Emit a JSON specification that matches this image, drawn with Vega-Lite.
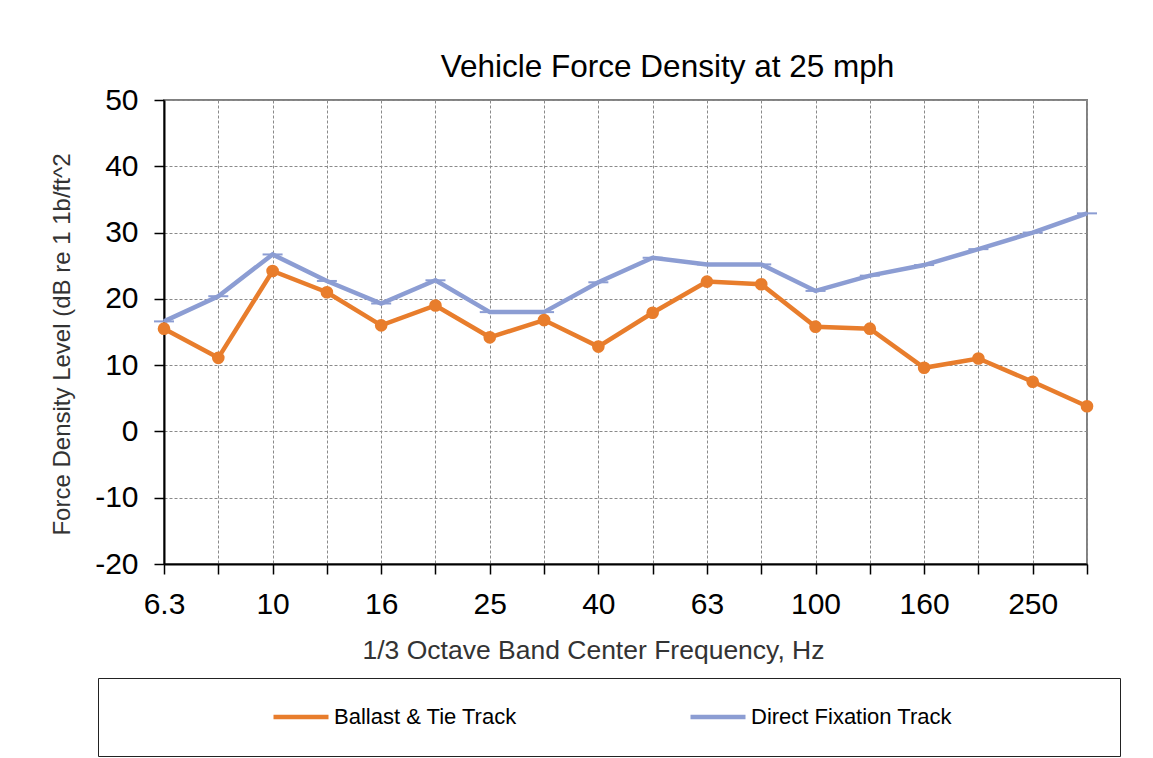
{
  "$schema": "https://vega.github.io/schema/vega-lite/v6.json",
  "width": 923,
  "height": 464,
  "autosize": {"type": "none"},
  "padding": {"left": 164, "top": 100, "right": 66, "bottom": 194},
  "background": "white",
  "title": {
    "text": "Vehicle Force Density at 25 mph",
    "font": "Liberation Sans",
    "fontSize": 31.5,
    "fontWeight": "normal",
    "color": "#000000",
    "anchor": "middle",
    "frame": "group",
    "baseline": "alphabetic",
    "offset": 23,
    "dx": 42,
    "dy": 46
  },
  "config": {
    "font": "Liberation Sans",
    "view": {"stroke": "#808080", "strokeWidth": 2},
    "axis": {
      "labelFont": "Liberation Sans",
      "titleFont": "Liberation Sans",
      "labelColor": "#000000",
      "titleColor": "#333333",
      "titleFontWeight": "normal",
      "domainColor": "#000000",
      "domainWidth": 2,
      "tickColor": "#000000",
      "tickWidth": 1.5,
      "tickSize": 10,
      "gridColor": "#8a8a8a",
      "gridWidth": 1,
      "gridDash": [3, 2],
      "gridOpacity": 1
    },
    "legend": {
      "labelFont": "Liberation Sans",
      "titleFont": "Liberation Sans"
    }
  },
  "data": {
    "values": [
      {"freq": "6.3", "track": "Ballast & Tie Track", "level": 15.5},
      {"freq": "8", "track": "Ballast & Tie Track", "level": 11.1},
      {"freq": "10", "track": "Ballast & Tie Track", "level": 24.2},
      {"freq": "12.5", "track": "Ballast & Tie Track", "level": 21.0},
      {"freq": "16", "track": "Ballast & Tie Track", "level": 16.0},
      {"freq": "20", "track": "Ballast & Tie Track", "level": 19.0},
      {"freq": "25", "track": "Ballast & Tie Track", "level": 14.2},
      {"freq": "31.5", "track": "Ballast & Tie Track", "level": 16.8},
      {"freq": "40", "track": "Ballast & Tie Track", "level": 12.8},
      {"freq": "50", "track": "Ballast & Tie Track", "level": 17.9},
      {"freq": "63", "track": "Ballast & Tie Track", "level": 22.6},
      {"freq": "80", "track": "Ballast & Tie Track", "level": 22.2},
      {"freq": "100", "track": "Ballast & Tie Track", "level": 15.8},
      {"freq": "125", "track": "Ballast & Tie Track", "level": 15.5},
      {"freq": "160", "track": "Ballast & Tie Track", "level": 9.6},
      {"freq": "200", "track": "Ballast & Tie Track", "level": 11.0},
      {"freq": "250", "track": "Ballast & Tie Track", "level": 7.5},
      {"freq": "315", "track": "Ballast & Tie Track", "level": 3.8},
      {"freq": "6.3", "track": "Direct Fixation Track", "level": 16.6},
      {"freq": "8", "track": "Direct Fixation Track", "level": 20.4},
      {"freq": "10", "track": "Direct Fixation Track", "level": 26.7},
      {"freq": "12.5", "track": "Direct Fixation Track", "level": 22.7},
      {"freq": "16", "track": "Direct Fixation Track", "level": 19.3},
      {"freq": "20", "track": "Direct Fixation Track", "level": 22.8},
      {"freq": "25", "track": "Direct Fixation Track", "level": 18.0},
      {"freq": "31.5", "track": "Direct Fixation Track", "level": 18.0},
      {"freq": "40", "track": "Direct Fixation Track", "level": 22.5},
      {"freq": "50", "track": "Direct Fixation Track", "level": 26.2},
      {"freq": "63", "track": "Direct Fixation Track", "level": 25.2},
      {"freq": "80", "track": "Direct Fixation Track", "level": 25.2},
      {"freq": "100", "track": "Direct Fixation Track", "level": 21.2},
      {"freq": "125", "track": "Direct Fixation Track", "level": 23.5},
      {"freq": "160", "track": "Direct Fixation Track", "level": 25.1},
      {"freq": "200", "track": "Direct Fixation Track", "level": 27.5},
      {"freq": "250", "track": "Direct Fixation Track", "level": 30.0},
      {"freq": "315", "track": "Direct Fixation Track", "level": 32.9}
    ]
  },
  "encoding": {
    "x": {
      "field": "freq",
      "type": "ordinal",
      "scale": {
        "type": "point",
        "padding": 0,
        "domain": ["6.3", "8", "10", "12.5", "16", "20", "25", "31.5", "40", "50", "63", "80", "100", "125", "160", "200", "250", "315"]
      },
      "axis": {
        "title": "1/3 Octave Band Center Frequency, Hz",
        "titleFontSize": 26.5,
        "titleBaseline": "alphabetic",
        "titleAlign": "center",
        "titleX": 429,
        "titleY": 94,
        "labelFontSize": 30,
        "labelAngle": 0,
        "labelPadding": 15,
        "labelOverlap": false,
        "labelFlush": false,
        "grid": true,
        "labelExpr": "indexof(['6.3','10','16','25','40','63','100','160','250'], datum.value) >= 0 ? datum.label : ''"
      }
    },
    "y": {
      "field": "level",
      "type": "quantitative",
      "scale": {"domain": [-20, 50], "nice": false, "zero": false},
      "axis": {
        "title": "Force Density Level  (dB re 1 1b/ft^2",
        "titleFontSize": 24,
        "titleBaseline": "alphabetic",
        "titleX": -95,
        "titleY": 244,
        "titleAngle": -90,
        "values": [-20, -10, 0, 10, 20, 30, 40, 50],
        "labelExpr": "datum.value < 0 ? '-' + abs(datum.value) : '' + datum.value",
        "labelFontSize": 30,
        "labelPadding": 16,
        "grid": true
      }
    }
  },
  "layer": [
    {
      "mark": {"type": "line", "strokeWidth": 4.5},
      "encoding": {
        "color": {
          "field": "track",
          "type": "nominal",
          "scale": {
            "domain": ["Ballast & Tie Track", "Direct Fixation Track"],
            "range": ["#E87D2C", "#8C9DD3"]
          },
          "legend": {
            "orient": "none",
            "legendX": -66,
            "legendY": 578,
            "direction": "horizontal",
            "title": ".",
            "titleOrient": "left",
            "titleOpacity": 0,
            "titleFontSize": 22,
            "titlePadding": 139,
            "padding": 27,
            "strokeColor": "#222222",
            "fillColor": "white",
            "symbolType": "stroke",
            "symbolSize": 3025,
            "symbolStrokeWidth": 4.5,
            "clipHeight": 24,
            "labelFontSize": 22,
            "labelColor": "#000000",
            "labelOffset": 3,
            "labelLimit": 600,
            "columnPadding": 171,
            "labelExpr": "datum.label == 'Direct Fixation Track' ? datum.label + '\u00a0\u00a0\u00a0\u00a0\u00a0\u00a0\u00a0\u00a0\u00a0\u00a0\u00a0\u00a0\u00a0\u00a0\u00a0\u00a0\u00a0\u00a0\u00a0\u00a0\u00a0\u00a0\u00a0\u200b' : datum.label"
          }
        }
      }
    },
    {
      "transform": [{"filter": "datum.track == 'Direct Fixation Track'"}],
      "mark": {"type": "tick", "thickness": 2, "size": 20, "color": "#8C9DD3", "opacity": 1}
    },
    {
      "transform": [{"filter": "datum.track == 'Ballast & Tie Track'"}],
      "mark": {"type": "point", "filled": true, "size": 160, "color": "#E87D2C", "opacity": 1}
    }
  ]
}
